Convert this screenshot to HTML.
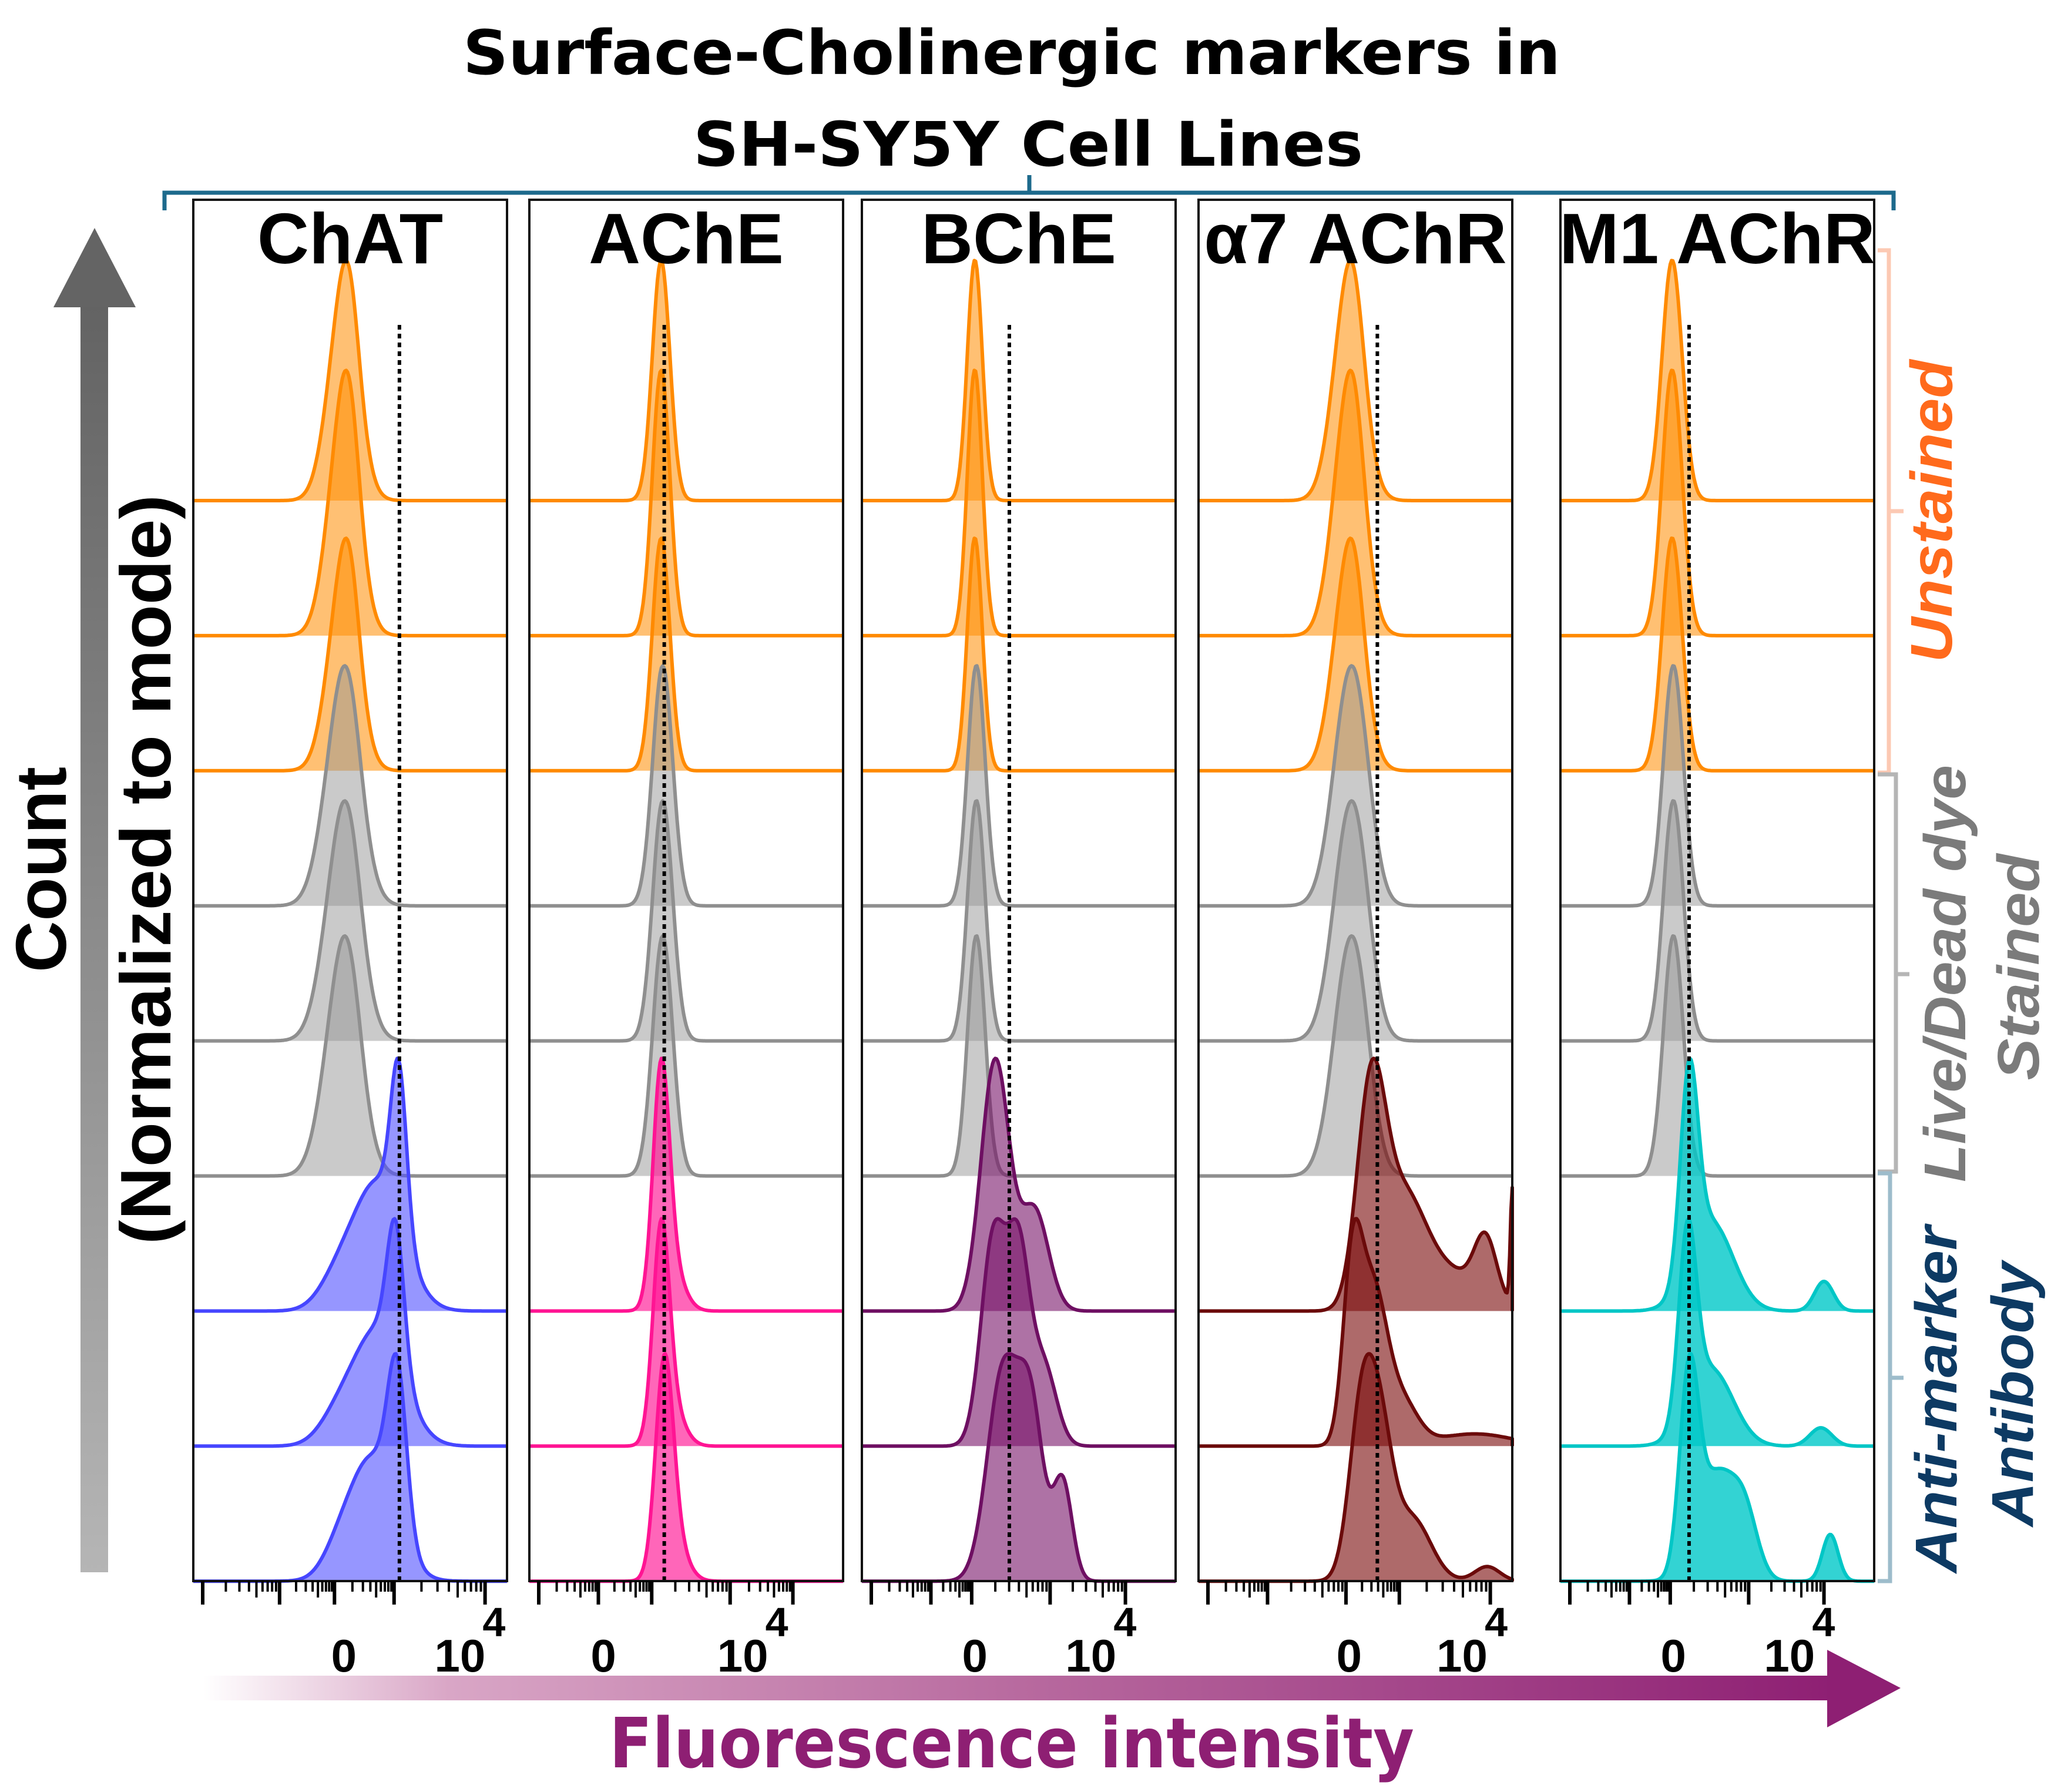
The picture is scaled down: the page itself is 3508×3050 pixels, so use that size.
<!DOCTYPE html>
<html><head><meta charset="utf-8"><style>
html,body{margin:0;padding:0;background:#fff;}
svg{display:block;}
</style></head><body>
<svg id="chart" width="3508" height="3050" viewBox="0 0 3508 3050" xmlns="http://www.w3.org/2000/svg">
<defs>
<linearGradient id="ygrad" x1="0" y1="0" x2="0" y2="1"><stop offset="0" stop-color="#636363"/><stop offset="1" stop-color="#b5b5b5"/></linearGradient>
<linearGradient id="xgrad" x1="0" y1="0" x2="1" y2="0"><stop offset="0" stop-color="#fff"/><stop offset="0.15" stop-color="#d9a6c6"/><stop offset="0.5" stop-color="#b86a9f"/><stop offset="1" stop-color="#8e1f73"/></linearGradient>
</defs>
<g font-family="'DejaVu Sans',sans-serif" font-weight="bold" font-size="104" fill="#000" text-anchor="middle">
<text x="1722" y="126" textLength="1868" lengthAdjust="spacingAndGlyphs">Surface-Cholinergic markers in</text>
<text x="1750" y="282" textLength="1140" lengthAdjust="spacingAndGlyphs">SH-SY5Y Cell Lines</text>
</g>
<path d="M280 358 V328 H3223 V358 M1752 328 V298" fill="none" stroke="#1d6a8c" stroke-width="7"/>
<g>
<rect x="137" y="520" width="47" height="2156" fill="url(#ygrad)"/>
<polygon points="91,523 231,523 161,388" fill="#646464"/>
</g>
<text transform="translate(112,1480) rotate(-90)" text-anchor="middle" font-family="'Liberation Sans',sans-serif" font-weight="bold" font-size="122" textLength="350" lengthAdjust="spacingAndGlyphs">Count</text>
<text transform="translate(290,1480) rotate(-90)" text-anchor="middle" font-family="'Liberation Sans',sans-serif" font-weight="bold" font-size="122" textLength="1276" lengthAdjust="spacingAndGlyphs">(Normalized to mode)</text>
<g id="panels"></g>
<g fill="none" stroke-width="7">
<path d="M3196 426 H3215 V1315 H3196 M3215 870 H3240" stroke="#fcc9b3"/>
<path d="M3196 1318 H3227 V1994 H3196 M3227 1658 H3250" stroke="#b5b5b5"/>
<path d="M3196 1997 H3217 V2691 H3196 M3217 2345 H3240" stroke="#9dbccb"/>
</g>
<g font-family="'Liberation Sans',sans-serif" font-weight="bold" font-style="italic" font-size="100" text-anchor="middle">
<text transform="translate(3322,870) rotate(-90)" fill="#ff6a1c" textLength="515" lengthAdjust="spacingAndGlyphs">Unstained</text>
<text transform="translate(3345,1657) rotate(-90)" fill="#7b7b7b" textLength="710" lengthAdjust="spacingAndGlyphs">Live/Dead dye</text>
<text transform="translate(3470,1646) rotate(-90)" fill="#7b7b7b" textLength="385" lengthAdjust="spacingAndGlyphs">Stained</text>
<text transform="translate(3330,2382) rotate(-90)" fill="#0d3a63" textLength="590" lengthAdjust="spacingAndGlyphs">Anti-marker</text>
<text transform="translate(3460,2373) rotate(-90)" fill="#0d3a63" textLength="450" lengthAdjust="spacingAndGlyphs">Antibody</text>
</g>
<g>
<rect x="346" y="2852" width="2780" height="42" fill="url(#xgrad)"/>
<polygon points="3110,2808 3235,2873 3110,2940" fill="#8e1f73"/>
</g>
<text x="1722" y="3008" text-anchor="middle" font-family="'DejaVu Sans',sans-serif" font-weight="bold" font-size="118" fill="#8e1f73" textLength="1370" lengthAdjust="spacingAndGlyphs">Fluorescence intensity</text>
</svg>
<script>
// ---- data ----
const panelNames = ['ChAT','AChE','BChE','α7 AChR','M1 AChR'];
const stainColors = ['#4646ff','#ff1493','#6e0f62','#6b0a0a','#00c6c6'];
const stainFills = ['rgba(80,80,255,0.6)','rgba(255,20,147,0.65)','rgba(120,20,105,0.6)','rgba(125,15,15,0.62)','rgba(0,200,200,0.8)'];
// components: [center(0-1 of panel), sigma, amplitude]
const unstainedComps = [
 [[0.477,0.048,1],[0.50,0.03,0.3]],
 [[0.42,0.028,1]],
 [[0.36,0.024,1]],
 [[0.477,0.048,1],[0.50,0.03,0.2]],
 [[0.356,0.032,1]]
];
const liveDeadComps = [
 [[0.475,0.055,1],[0.50,0.035,0.2]],
 [[0.425,0.032,1]],
 [[0.365,0.028,1]],
 [[0.48,0.052,1],[0.52,0.04,0.2]],
 [[0.36,0.032,1]]
];
const stainedComps = [
 [ [[0.59,0.08,0.6],[0.655,0.025,0.75],[0.46,0.06,0.12]],
   [[0.59,0.08,0.6],[0.645,0.027,0.7],[0.46,0.06,0.12]],
   [[0.57,0.075,0.55],[0.65,0.03,0.7],[0.46,0.05,0.08]] ],
 [ [[0.42,0.026,1],[0.45,0.04,0.2]],
   [[0.42,0.026,1],[0.45,0.04,0.2]],
   [[0.43,0.028,1],[0.46,0.04,0.2]] ],
 [ [[0.425,0.045,1],[0.55,0.045,0.4]],
   [[0.42,0.04,0.8],[0.50,0.035,0.7],[0.58,0.04,0.3]],
   [[0.45,0.05,0.85],[0.54,0.04,0.65],[0.64,0.03,0.4]] ],
 [ [[0.55,0.045,1],[0.65,0.07,0.5],[0.80,0.1,0.18],[0.915,0.035,0.28],[1.0,0.006,0.55]],
   [[0.49,0.03,0.8],[0.555,0.045,0.75],[0.65,0.05,0.2],[0.88,0.12,0.06]],
   [[0.52,0.04,0.8],[0.58,0.04,0.6],[0.68,0.06,0.3],[0.92,0.04,0.07]] ],
 [ [[0.41,0.028,1],[0.48,0.07,0.45],[0.84,0.03,0.15]],
   [[0.405,0.028,1],[0.48,0.07,0.42],[0.83,0.035,0.1]],
   [[0.41,0.03,0.9],[0.50,0.06,0.5],[0.59,0.04,0.25],[0.86,0.025,0.22]] ]
];
const rowHeights = [0.95,1.05,0.92,0.95,0.95,0.95,1.0,0.9,0.9];
const gateX = [0.657,0.43,0.47,0.57,0.41];
const zeroLabelX = [0.48,0.236,0.36,0.48,0.36];
const tenLabelX = [0.85,0.68,0.73,0.84,0.73];
const decadeTicks = [[0.03,0.275,0.45,0.64,0.93],[0.03,0.22,0.39,0.64,0.84],[0.03,0.22,0.35,0.6,0.84],[0.03,0.22,0.47,0.64,0.93],[0.03,0.22,0.35,0.6,0.84]];

// ---- layout ----
const NS='http://www.w3.org/2000/svg';
const panelLeft=[329,901,1467,2040,2656], panelW=534, panelTop=340, panelBottom=2691;
const rowBase=i=>852+229.9*i;
const H=430;
const root=document.getElementById('panels');
function el(tag,attrs,parent){const e=document.createElementNS(NS,tag);for(const k in attrs)e.setAttribute(k,attrs[k]);(parent||root).appendChild(e);return e;}
function curve(comps){const N=240,ys=[];let m=0;for(let i=0;i<=N;i++){const x=i/N;let y=0;for(const c of comps)y+=c[2]*Math.exp(-0.5*((x-c[0])/c[1])**2);ys.push(y);if(y>m)m=y;}return ys.map(v=>v/m);}
panelNames.forEach((name,p)=>{
  const g=el('g',{});
  
  
  const L=panelLeft[p];
  const sx=f=>L+f*panelW;
  for(let r=0;r<9;r++){
    let comps,stroke,fill,grp;
    if(r<3){comps=unstainedComps[p];stroke='#ff8a00';fill='rgba(255,140,0,0.55)';grp='unstained';}
    else if(r<6){comps=liveDeadComps[p];stroke='#8f8f8f';fill='rgba(150,150,150,0.5)';grp='live-dead';}
    else {comps=stainedComps[p][r-6];stroke=stainColors[p];fill=stainFills[p];grp='stained';}
    const ys=curve(comps),base=rowBase(r),h=H*rowHeights[r];
    let d='M'+sx(0)+' '+base;
    ys.forEach((v,i)=>{d+=' L'+sx(i/(ys.length-1)).toFixed(1)+' '+(base-v*h).toFixed(1);});
    d+=' L'+sx(1)+' '+base;
    const f=el('path',{d:d+' Z',fill:fill,stroke:'none'},g);
    
    
    const s=el('path',{d:d,fill:'none',stroke:stroke,'stroke-width':6,'stroke-linejoin':'round'},g);
    
    
  }
  const gl=el('line',{x1:sx(gateX[p]),x2:sx(gateX[p]),y1:553,y2:panelBottom,stroke:'#000','stroke-width':6,'stroke-dasharray':'8 7'},g);
  
  
  const fr=el('rect',{x:L,y:panelTop,width:panelW,height:panelBottom-panelTop,fill:'none',stroke:'#111','stroke-width':4},g);
  
  
  const t=el('text',{x:L+panelW/2,y:448,'text-anchor':'middle','font-family':"'Liberation Sans',sans-serif",'font-weight':'bold','font-size':122},g);
  t.textContent=name;
  
  
  // ticks
  const dt=decadeTicks[p];
  for(let k=0;k<dt.length;k++){
    const tk=el('line',{x1:sx(dt[k]),x2:sx(dt[k]),y1:panelBottom,y2:panelBottom+40,stroke:'#000','stroke-width':6},g);
    
    
    if(k<dt.length-1){
      for(let m=2;m<10;m++){
        const fx=dt[k]+(dt[k+1]-dt[k])*Math.log10(m);
        const mt=el('line',{x1:sx(fx),x2:sx(fx),y1:panelBottom,y2:panelBottom+(m===5?28:18),stroke:'#000','stroke-width':4},g);
        
        
      }
    }
  }
  const z=el('text',{x:sx(zeroLabelX[p]),y:2845,'text-anchor':'middle','font-family':"'Liberation Sans',sans-serif",'font-weight':'bold','font-size':78},g);
  z.textContent='0';
  
  
  const tn=el('text',{x:sx(tenLabelX[p]),y:2845,'text-anchor':'middle','font-family':"'Liberation Sans',sans-serif",'font-weight':'bold','font-size':78},g);
  tn.textContent='10';
  
  
  const ex=el('text',{x:sx(tenLabelX[p])+58,y:2785,'text-anchor':'middle','font-family':"'Liberation Sans',sans-serif",'font-weight':'bold','font-size':70},g);
  ex.textContent='4';
  
  
});
</script>
</body></html>
